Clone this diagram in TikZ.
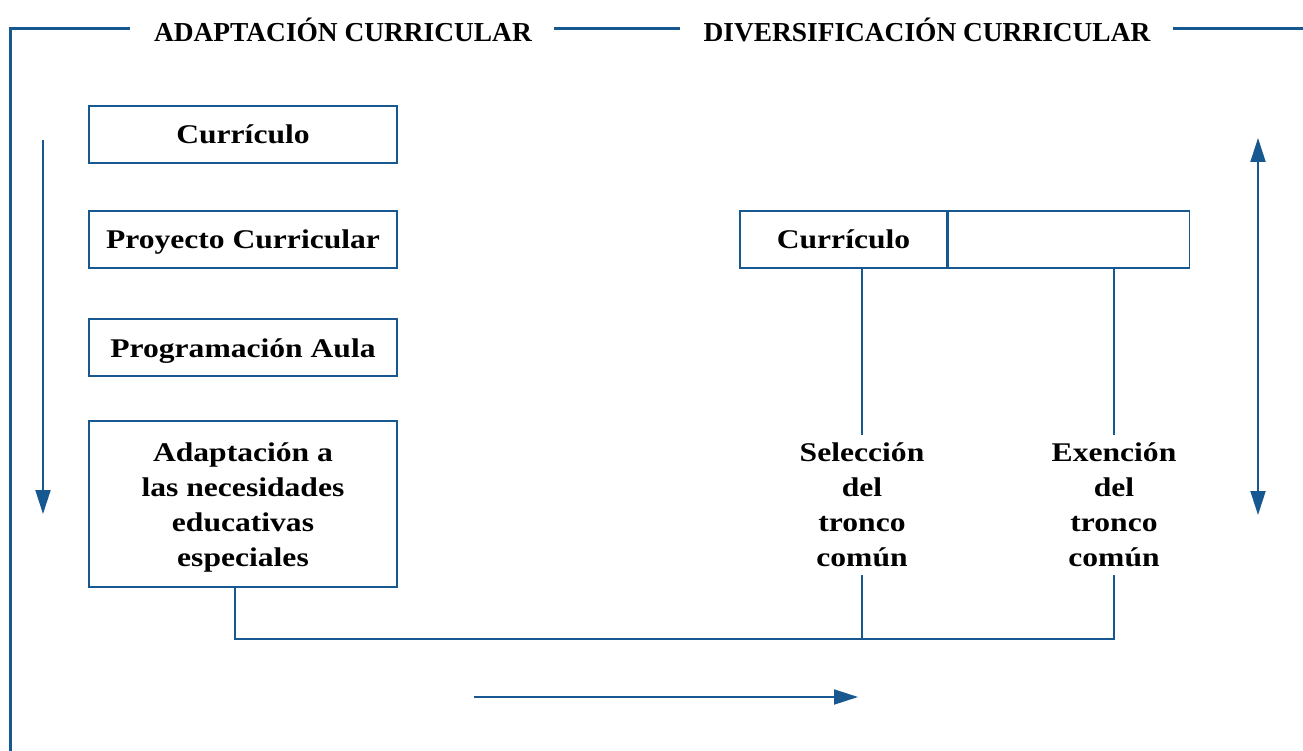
\documentclass[tikz,border=0pt]{standalone}
\usepackage{fontspec}
\setmainfont{Liberation Serif}
\newfontfamily\bodyfont[FakeStretch=1.17]{Liberation Serif}
\usetikzlibrary{arrows.meta,calc}
\definecolor{blu}{RGB}{24,88,145}
\tikzset{
  box/.style={draw=blu, line width=1.5pt, minimum width=308pt, minimum height=57pt, inner sep=0pt,
    font=\bodyfont\fontsize{27}{35}\selectfont\bfseries, align=center},
  sbox/.style={box, text height=25pt, text depth=6pt},
  lbl/.style={inner sep=0pt, minimum height=140pt, font=\bodyfont\fontsize{27}{35}\selectfont\bfseries, align=center},
  ttl/.style={inner sep=0pt, font=\fontsize{27.4}{30}\selectfont\bfseries},
  frame/.style={draw=blu, line width=3pt},
  conn/.style={draw=blu, line width=1.5pt},
  arr/.style={draw=blu, line width=2pt, -{Triangle[length=24pt,width=15pt]}},
  darr/.style={draw=blu, line width=2pt, {Triangle[length=24pt,width=15pt]}-{Triangle[length=24pt,width=15pt]}}
}
\begin{document}
\begin{tikzpicture}[x=1pt,y=-1pt]
\useasboundingbox (0,0) rectangle (1303,751);
% titles
\node[ttl] (t1) at (343,30) {ADAPTACIÓN CURRICULAR};
\node[ttl] (t2) at (927,30) {DIVERSIFICACIÓN CURRICULAR};
\coordinate (f0) at (10,751);
\coordinate (f1) at (10,29);
\coordinate (f2) at (1303,29);
\draw[frame, line cap=rect] (f0) -- (f1) -- (128,29);
\draw[frame] ($(t1.east)+(22,-1)$) -- ($(t2.west)+(-23,-1)$);
\draw[frame] ($(t2.east)+(22,-1)$) -- (f2);
% left boxes
\node[sbox] (c1) at (243,134.5) {Currículo};
\node[sbox] (pc) at (243,239.5) {Proyecto Curricular};
\node[sbox] (pa) at (243,347.5) {Programación Aula};
\node[box, minimum height=166pt] (ad) at (243,504) {\rule{0pt}{25pt}Adaptación a\\las necesidades\\educativas\\especiales};
% right box
\node[sbox, minimum width=207pt] (rc) at (843.5,239.5) {Currículo};
\node[sbox, minimum width=241pt, anchor=west] (rb) at (rc.east) {};
% labels
\node[lbl] (sel) at (862,505) {Selección\\del\\tronco\\común};
\node[lbl] (exe) at (1114,505) {Exención\\del\\tronco\\común};
% connectors
\coordinate (j1) at (235,639);
\draw[conn] (sel.north) -- (sel.north |- rc.south);
\draw[conn] (exe.north) -- (exe.north |- rb.south);
\draw[conn] (ad.south -| j1) -- (j1) -| (exe.south);
\draw[conn] (sel.south) -- (sel.south |- j1);
% arrows
\coordinate (la1) at (43,140);
\coordinate (la2) at (43,514);
\draw[arr] (la1) -- (la2);
\coordinate (ba1) at (474,697);
\coordinate (ba2) at (858,697);
\draw[arr] (ba1) -- (ba2);
\coordinate (ra1) at (1258,138);
\coordinate (ra2) at (1258,515);
\draw[darr] (ra1) -- (ra2);
\end{tikzpicture}
\end{document}
